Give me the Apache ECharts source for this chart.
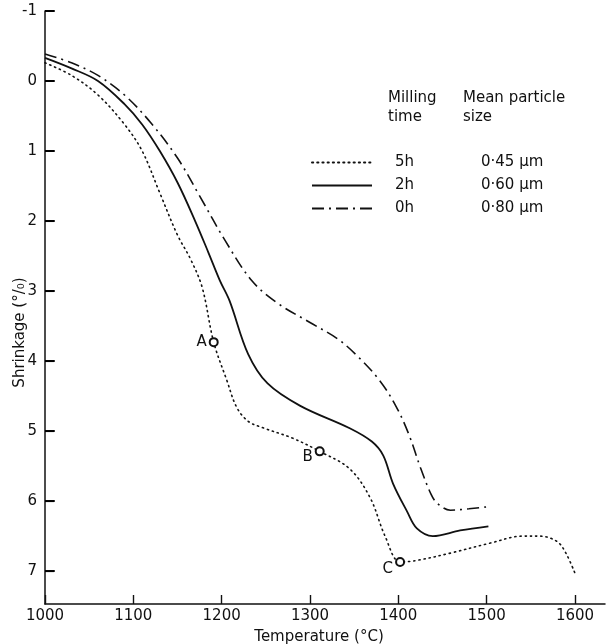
<!DOCTYPE html>
<html><head><meta charset="utf-8">
<script src="https://cdn.jsdelivr.net/npm/echarts@6/dist/echarts.min.js"></script>
<style>html,body{margin:0;padding:0;background:#fff}#c{width:610px;height:644px}</style>
</head><body><div id="c"></div>
<script>
// Data
const xTicks = [1000, 1100, 1200, 1300, 1400, 1500, 1600];
const yTicks = [-1, 0, 1, 2, 3, 4, 5, 6, 7];

const temp5h = [1000,1030,1060,1090,1110,1130,1150,1165,1178,1191,1206,1217,1230,1246,1280,1311,1345,1368,1385,1402,1420,1460,1504,1541,1560,1580,1590,1600];
const shr5h  = [-0.26,-0.08,0.2,0.62,1.0,1.6,2.2,2.55,2.95,3.73,4.28,4.66,4.86,4.95,5.1,5.29,5.54,5.95,6.5,6.87,6.85,6.74,6.6,6.5,6.5,6.58,6.75,7.03];

const temp2h = [1000,1030,1060,1090,1110,1130,1150,1170,1185,1198,1209,1230,1252,1289,1345,1370,1383,1394,1410,1421,1439,1470,1502];
const shr2h  = [-0.33,-0.18,0.0,0.33,0.62,1.0,1.45,2.0,2.45,2.85,3.14,3.9,4.32,4.64,4.96,5.15,5.35,5.75,6.15,6.39,6.5,6.42,6.36];

const temp0h = [1000,1030,1060,1090,1120,1150,1175,1204,1234,1263,1300,1331,1353,1379,1398,1412,1425,1437,1444,1459,1480,1502];
const shr0h  = [-0.385,-0.26,-0.08,0.2,0.6,1.1,1.64,2.28,2.85,3.17,3.45,3.68,3.92,4.28,4.66,5.05,5.52,5.9,6.03,6.13,6.11,6.08];

const seriesNames = ['5h', '2h', '0h'];
const particleSizes = ['0·45 µm', '0·60 µm', '0·80 µm'];

const markLabels = ['A', 'B', 'C'];
const markTemp = [1191, 1311, 1402];
const markShr = [3.73, 5.29, 6.87];

const zip = (a, b) => a.map((v, i) => [v, b[i]]);
const ink = '#111';
const font = 'DejaVu Sans';

const chart = echarts.init(document.getElementById('c'), null, {renderer: 'canvas'});
chart.setOption({
  animation: false,
  backgroundColor: '#fff',
  grid: {left: 45, top: 11, right: 5, bottom: 40, containLabel: false, outerBoundsMode: 'none'},
  xAxis: {
    type: 'value', min: 1000, max: 1634, interval: 100, position: 'bottom',
    name: 'Temperature (°C)', nameLocation: 'middle', nameGap: 26, nameMoveOverlap: false,
    nameTextStyle: {color: ink, fontFamily: font, fontSize: 15, padding: [0, 12, 0, 0]},
    axisLine: {show: true, onZero: false, lineStyle: {color: ink, width: 1.5}},
    axisTick: {show: true, inside: true, length: 9, lineStyle: {color: ink, width: 1.4}, customValues: xTicks},
    axisLabel: {color: ink, fontFamily: font, fontSize: 15, margin: 5, customValues: xTicks,
      formatter: v => (xTicks.indexOf(v) >= 0 ? String(v) : '')},
    splitLine: {show: false}
  },
  yAxis: {
    type: 'value', inverse: true, min: -1, max: 7.47, interval: 1, position: 'left',
    name: 'Shrinkage (°/₀)', nameLocation: 'middle', nameGap: 17, nameRotate: 90, nameMoveOverlap: false,
    nameTextStyle: {color: ink, fontFamily: font, fontSize: 15, padding: [0, 50, 0, 0]},
    axisLine: {show: true, onZero: false, lineStyle: {color: ink, width: 1.5}},
    axisTick: {show: true, inside: true, length: 10, lineStyle: {color: ink, width: 1.6}, customValues: yTicks},
    axisLabel: {color: ink, fontFamily: font, fontSize: 15, margin: 8, customValues: yTicks,
      formatter: v => (yTicks.indexOf(v) >= 0 ? String(v) : '')},
    splitLine: {show: false}
  },
  legend: {
    data: seriesNames, orient: 'vertical', left: 306, top: 150,
    itemWidth: 60, itemHeight: 14, itemGap: 8, itemStyle: {opacity: 0},
    textStyle: {color: ink, fontFamily: font, fontSize: 15,
      rich: {p: {width: 18}, a: {width: 86, fontFamily: font, fontSize: 15, color: ink}, b: {fontFamily: font, fontSize: 15, color: ink}}},
    formatter: function (n) { return '{p|}{a|' + n + '}{b|' + particleSizes[seriesNames.indexOf(n)] + '}'; },
    selectedMode: false
  },
  graphic: [
    {type: 'text', left: 388, top: 89, style: {text: 'Milling\ntime', fill: ink, font: '15px "DejaVu Sans"', lineHeight: 19}},
    {type: 'text', left: 463, top: 89, style: {text: 'Mean particle\nsize', fill: ink, font: '15px "DejaVu Sans"', lineHeight: 19}}
  ],
  series: [
    {name: '5h', type: 'line', data: zip(temp5h, shr5h), smooth: 0.35, showSymbol: false, symbol: 'none',
     lineStyle: {color: ink, width: 1.6, type: [1.2, 4], cap: 'round'}},
    {name: '2h', type: 'line', data: zip(temp2h, shr2h), smooth: 0.35, showSymbol: false, symbol: 'none',
     lineStyle: {color: ink, width: 1.8, type: 'solid'}},
    {name: '0h', type: 'line', data: zip(temp0h, shr0h), smooth: 0.35, showSymbol: false, symbol: 'none',
     lineStyle: {color: ink, width: 1.6, type: [12, 5, 2, 5]}},
    {name: 'points', type: 'scatter', symbol: 'emptyCircle', symbolSize: 8, z: 5,
     itemStyle: {color: ink, borderColor: ink, borderWidth: 1.3, opacity: 1},
     data: markTemp.map((t, i) => ({value: [t, markShr[i]], label: {
       show: true, formatter: markLabels[i], position: 'left', distance: 2,
       offset: i === 0 ? [0, 0] : (i === 1 ? [0, 6] : [0, 7]),
       color: ink, fontFamily: font, fontSize: 15}}))}
  ]
});

// Inward ticks on the shrinkage axis, placed through the axis scale
const tickGraphics = yTicks.map(function (v, i) {
  const p = chart.convertToPixel({xAxisIndex: 0, yAxisIndex: 0}, [1000, v]);
  return {type: 'line', id: 'ytick' + i, z: 100, silent: true,
    shape: {x1: p[0], y1: p[1], x2: p[0] + 9, y2: p[1]},
    style: {stroke: '#000', lineWidth: 2}};
});
chart.setOption({graphic: tickGraphics});
</script></body></html>
